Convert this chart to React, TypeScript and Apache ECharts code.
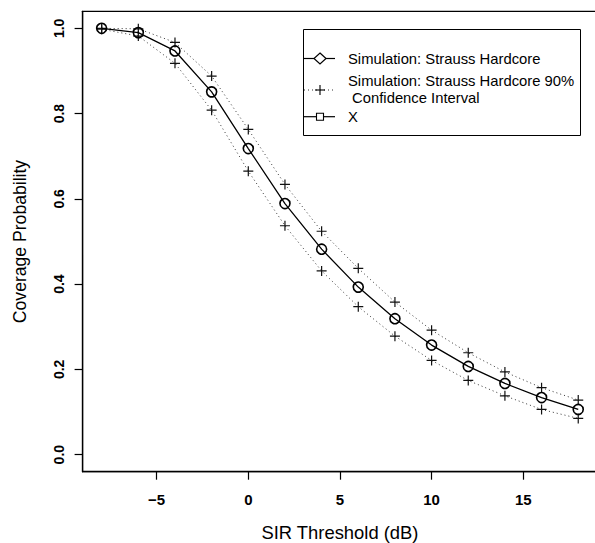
import React, { useEffect, useRef } from "react";
import * as echarts from "echarts";

const sirThreshold = [-8, -6, -4, -2, 0, 2, 4, 6, 8, 10, 12, 14, 16, 18];
const coverage = [1.0, 0.99, 0.947, 0.851, 0.718, 0.589, 0.482, 0.393, 0.319, 0.257, 0.207, 0.167, 0.134, 0.106];
const ciUpper = [1.0, 0.999, 0.967, 0.888, 0.763, 0.634, 0.524, 0.437, 0.358, 0.292, 0.239, 0.194, 0.157, 0.128];
const ciLower = [0.998, 0.982, 0.918, 0.808, 0.665, 0.537, 0.431, 0.347, 0.278, 0.221, 0.174, 0.138, 0.106, 0.085];
const xTicks = [-5, 0, 5, 10, 15];
const yTicks = [0, 0.2, 0.4, 0.6, 0.8, 1.0];
const legendNames = [
  "Simulation: Strauss Hardcore",
  "Simulation: Strauss Hardcore 90%\n Confidence Interval",
  "X",
];

const FONT = "'Liberation Sans', Arial, Helvetica, sans-serif";
const PLUS = "path://M0,-1V1M-1,0H1";

export default function App() {
  const ref = useRef<HTMLDivElement>(null);
  useEffect(() => {
    if (!ref.current) return;
    const chart = echarts.init(ref.current, undefined, { renderer: "svg" });
    const pairs = (ys: number[]) => sirThreshold.map((x, i) => [x, ys[i]]);
    const ciSeries = (name: string, ys: number[]) => ({
      type: "line",
      name,
      data: pairs(ys),
      symbol: PLUS,
      symbolSize: 10,
      showSymbol: true,
      lineStyle: { color: "#333", width: 1, type: [1, 3] },
      itemStyle: { color: "transparent", borderColor: "#111", borderWidth: 1.2 },
      z: 2,
    });
    const lx0 = 304;
    const lx1 = 335;
    const lc = 320;
    const option: any = {
      animation: false,
      backgroundColor: "#fff",
      grid: {
        left: 82.6,
        top: 11.3,
        right: -2.3,
        bottom: 71.3,
        show: true,
        borderColor: "#000",
        borderWidth: 1.3,
        containLabel: false,
        outerBoundsMode: "none",
      },
      xAxis: {
        type: "value",
        min: -9.04,
        max: 19.04,
        name: "SIR Threshold (dB)",
        nameLocation: "middle",
        nameGap: 52,
        nameTextStyle: { fontFamily: FONT, fontSize: 18.4, color: "#000" },
        axisLine: { show: true, onZero: false, lineStyle: { color: "#000", width: 1.3 } },
        axisTick: { show: true, inside: false, length: 8, lineStyle: { color: "#000", width: 1.2 }, customValues: xTicks },
        axisLabel: {
          customValues: xTicks,
          margin: 20,
          fontFamily: FONT,
          fontSize: 15,
          fontWeight: "bold",
          color: "#000",
          formatter: (v: number) => (v < 0 ? "\u2212" + Math.abs(v) : String(v)),
        },
        splitLine: { show: false },
      },
      yAxis: {
        type: "value",
        min: -0.04,
        max: 1.04,
        name: "Coverage Probability",
        nameLocation: "middle",
        nameGap: 54,
        nameTextStyle: { fontFamily: FONT, fontSize: 17.6, color: "#000" },
        axisLine: { show: true, onZero: false, lineStyle: { color: "#000", width: 1.3 } },
        axisTick: { show: true, inside: false, length: 8, lineStyle: { color: "#000", width: 1.2 }, customValues: yTicks },
        axisLabel: {
          customValues: yTicks,
          rotate: 90,
          margin: 17,
          fontFamily: FONT,
          fontSize: 14,
          fontWeight: "bold",
          color: "#000",
          formatter: (v: number) => v.toFixed(1),
        },
        splitLine: { show: false },
      },
      series: [
        ciSeries(legendNames[1] + " upper", ciUpper),
        ciSeries(legendNames[1] + " lower", ciLower),
        {
          type: "line",
          name: legendNames[0],
          data: pairs(coverage),
          symbol: "circle",
          symbolSize: 10,
          showSymbol: true,
          lineStyle: { color: "#000", width: 1.3 },
          itemStyle: { color: "transparent", borderColor: "#000", borderWidth: 1.6 },
          z: 3,
        },
      ],
      graphic: [
        {
          type: "rect",
          shape: { x: 303.5, y: 29.5, width: 277, height: 106 },
          style: { fill: "#fff", stroke: "#000", lineWidth: 1 },
          z: 10,
        },
        {
          type: "line",
          shape: { x1: lx0, y1: 58.5, x2: lx1, y2: 58.5 },
          style: { stroke: "#000", lineWidth: 1.2 },
          z: 11,
        },
        {
          type: "polygon",
          shape: { points: [[lc, 53], [lc + 6, 58.5], [lc, 64], [lc - 6, 58.5]] },
          style: { fill: "#fff", stroke: "#000", lineWidth: 1.2 },
          z: 12,
        },
        {
          type: "text",
          style: { x: 348, y: 58.5, text: legendNames[0], fontFamily: FONT, fontSize: 14.8, fill: "#000", verticalAlign: "middle" },
          z: 12,
        },
        {
          type: "line",
          shape: { x1: lx0, y1: 90, x2: lx1, y2: 90 },
          style: { stroke: "#333", lineWidth: 1, lineDash: [1, 3] },
          z: 11,
        },
        {
          type: "line",
          shape: { x1: lc - 5, y1: 90, x2: lc + 5, y2: 90 },
          style: { stroke: "#111", lineWidth: 1.2 },
          z: 12,
        },
        {
          type: "line",
          shape: { x1: lc, y1: 85, x2: lc, y2: 95 },
          style: { stroke: "#111", lineWidth: 1.2 },
          z: 12,
        },
        {
          type: "text",
          style: { x: 348, y: 89.2, text: legendNames[1], fontFamily: FONT, fontSize: 14.8, lineHeight: 17, fill: "#000", verticalAlign: "middle" },
          z: 12,
        },
        {
          type: "line",
          shape: { x1: lx0, y1: 116.7, x2: lx1, y2: 116.7 },
          style: { stroke: "#000", lineWidth: 1.2 },
          z: 11,
        },
        {
          type: "rect",
          shape: { x: lc - 3.5, y: 113.2, width: 7, height: 7 },
          style: { fill: "#fff", stroke: "#000", lineWidth: 1.1 },
          z: 12,
        },
        {
          type: "text",
          style: { x: 348, y: 116.7, text: legendNames[2], fontFamily: FONT, fontSize: 14.8, fill: "#000", verticalAlign: "middle" },
          z: 12,
        },
      ],
    };
    chart.setOption(option);
    return () => chart.dispose();
  }, []);
  return (
    <div
      ref={ref}
      style={{ position: "fixed", left: 0, top: 0, width: 595, height: 543, background: "#fff" }}
    />
  );
}
